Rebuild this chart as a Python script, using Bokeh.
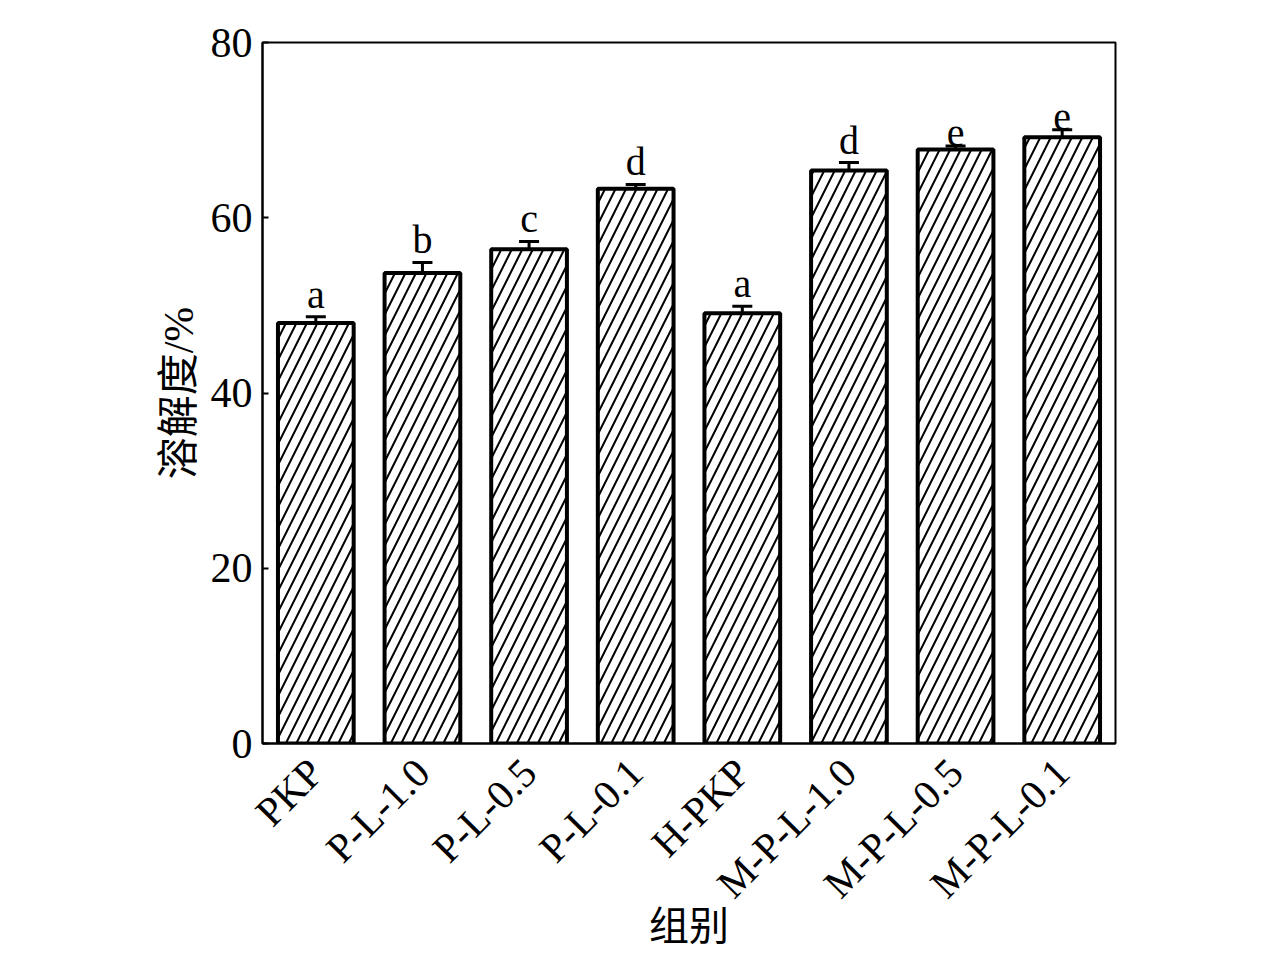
import math
from bokeh.plotting import figure
from bokeh.models import ColumnDataSource, Whisker, TeeHead, FactorRange, Range1d, FixedTicker
from bokeh.core.properties import value
from bokeh.embed import file_html
from bokeh.resources import INLINE

groups = ["PKP", "P-L-1.0", "P-L-0.5", "P-L-0.1", "H-PKP", "M-P-L-1.0", "M-P-L-0.5", "M-P-L-0.1"]
solubility = [48.0, 53.7, 56.4, 63.3, 49.1, 65.4, 67.8, 69.2]
errors = [0.7, 1.2, 0.9, 0.5, 0.8, 0.9, 0.4, 0.85]
letters = ["a", "b", "c", "d", "a", "d", "e", "e"]
y_ticks = [0, 20, 40, 60, 80]

SERIF = "Liberation Serif"
CJK = "Liberation Serif, Noto Sans CJK SC"

src = ColumnDataSource(dict(
    g=groups, v=solubility,
    up=[v + e for v, e in zip(solubility, errors)],
    lo=[v - e for v, e in zip(solubility, errors)],
    lab=letters,
))

p = figure(x_range=FactorRange(*groups, range_padding=0), y_range=Range1d(0, 80),
           frame_width=853, frame_height=701,
           min_border_left=262, min_border_top=42, min_border_right=140, min_border_bottom=190,
           output_backend="svg", toolbar_location=None, tools="")

p.vbar(x="g", top="v", width=0.71, source=src, fill_color="white",
       line_color="black", line_width=4,
       hatch_pattern="/", hatch_color="black", hatch_scale=21, hatch_weight=2)

w = Whisker(base="g", upper="up", lower="lo", source=src,
            line_color="black", line_width=3,
            upper_head=TeeHead(size=20, line_width=3, line_color="black"),
            lower_head=TeeHead(size=20, line_width=3, line_color="black"))
p.add_layout(w)

p.text(x="g", y="up", text="lab", source=src, text_align="center",
       text_baseline="bottom",
       text_font=value(SERIF), text_font_size="40px", text_color="black")

p.grid.visible = False
p.outline_line_color = "black"
p.outline_line_width = 2
p.outline_line_alpha = 1
p.background_fill_color = "white"
p.border_fill_color = "white"

ya = p.yaxis[0]
ya.ticker = FixedTicker(ticks=y_ticks)
ya.major_tick_in = 6
ya.major_tick_out = 0
ya.minor_tick_line_color = None
ya.axis_line_width = 2
ya.major_tick_line_width = 2
ya.major_label_text_font = SERIF
ya.major_label_text_font_size = "42px"
ya.major_label_text_color = "black"
ya.major_label_standoff = 10
ya.axis_label = "溶解度/%"
ya.axis_label_text_font = CJK
ya.axis_label_text_font_size = "42px"
ya.axis_label_text_font_style = "normal"
ya.axis_label_text_color = "black"
ya.axis_label_standoff = 6

xa = p.xaxis[0]
xa.major_tick_line_color = None
xa.minor_tick_line_color = None
xa.axis_line_width = 2
xa.major_label_orientation = math.pi / 4
xa.major_label_text_font = SERIF
xa.major_label_text_font_size = "41px"
xa.major_label_text_color = "black"
xa.major_label_standoff = 16
xa.axis_label = "组别"
xa.axis_label_text_font = CJK
xa.axis_label_text_font_size = "40px"
xa.axis_label_text_font_style = "normal"
xa.axis_label_text_color = "black"
xa.axis_label_standoff = -22

open("out.html", "w").write(file_html(p, INLINE))
